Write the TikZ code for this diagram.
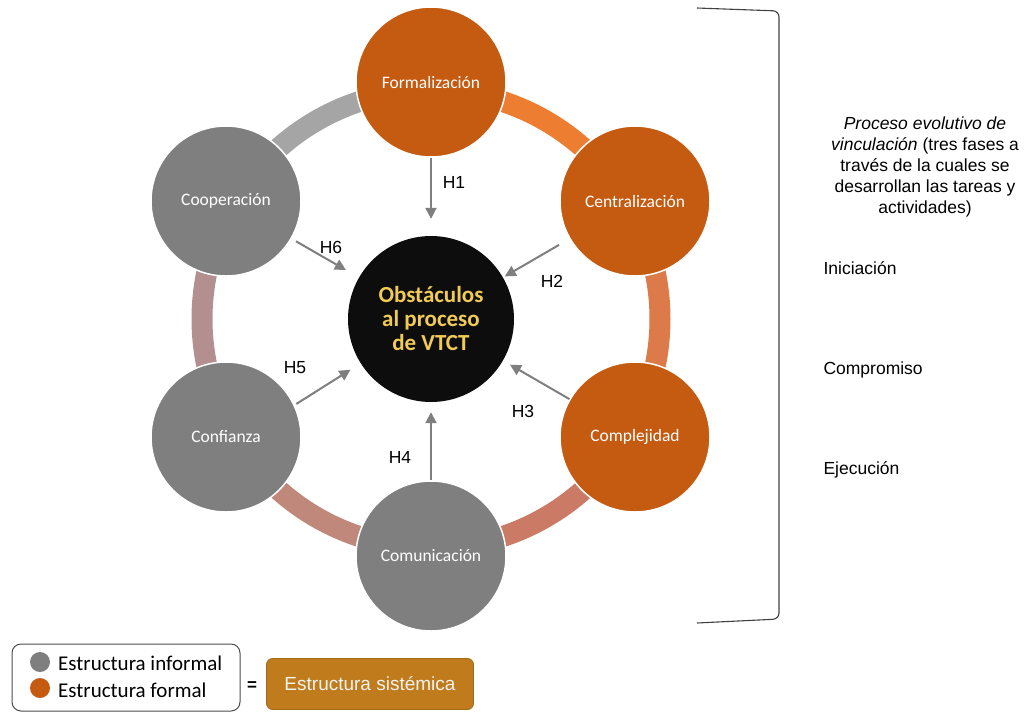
\documentclass[tikz,border=0pt]{standalone}
\usepackage{fontspec}
\setmainfont{Carlito}
\newfontfamily\arialfont{Liberation Sans}
\usetikzlibrary{arrows.meta}
\definecolor{orangeN}{HTML}{C55A11}
\definecolor{grayN}{HTML}{7F7F7F}
\definecolor{goldT}{HTML}{F2CB55}
\definecolor{arcA}{HTML}{ED7D31}
\definecolor{arcB}{HTML}{DC7A4A}
\definecolor{arcC}{HTML}{CB7A66}
\definecolor{arcD}{HTML}{C0887A}
\definecolor{arcE}{HTML}{B38F90}
\definecolor{arcF}{HTML}{A5A5A5}
\definecolor{arrowG}{HTML}{7F7F7F}
\definecolor{sistem}{HTML}{C07C1C}
\begin{document}
\begin{tikzpicture}[x=1pt,y=-1pt,
  ringarc/.style={line width=21pt},
  factor/.style={circle,minimum size=150pt,inner sep=0pt,draw=white,line width=1.5pt,
    text=white,font=\fontsize{17.5}{21}\selectfont},
  informal/.style={factor,fill=grayN},
  formal/.style={factor,fill=orangeN},
  hyp/.style={draw=arrowG,line width=2pt,-{Triangle[length=11pt,width=11pt]}},
  hlabel/.style={font=\arialfont\fontsize{17.5}{20}\selectfont,text=black},
  sidetext/.style={font=\arialfont\fontsize{17.5}{21}\selectfont,text=black},
  legtext/.style={font=\fontsize{21}{24}\selectfont,anchor=west,inner sep=0pt}
]
\useasboundingbox (0,0) rectangle (1026,713);
\coordinate (o) at (431,319);
% ring
\draw[ringarc,arcA] (o) ++(-90:229) arc[start angle=-90,end angle=-30,radius=229];
\draw[ringarc,arcB] (o) ++(-30:229) arc[start angle=-30,end angle=30,radius=229];
\draw[ringarc,arcC] (o) ++(30:229) arc[start angle=30,end angle=90,radius=229];
\draw[ringarc,arcD] (o) ++(90:229) arc[start angle=90,end angle=150,radius=229];
\draw[ringarc,arcE] (o) ++(150:229) arc[start angle=150,end angle=210,radius=229];
\draw[ringarc,arcF] (o) ++(210:229) arc[start angle=210,end angle=270,radius=229];
% nodes
\node[formal] (form) at (431,82) {Formalización};
\node[formal] (cent) at (635,201) {Centralización};
\node[formal] (comp) at (635,437) {Complejidad};
\node[informal] (comu) at (431,556) {Comunicación};
\node[informal] (conf) at (226,437) {Confianza};
\node[informal] (coop) at (226,201) {Cooperación};
\node[circle,minimum size=166pt,inner sep=0pt,fill=black!95,text=goldT,align=center,
  font=\bfseries\fontsize{23}{24}\selectfont] (ctr) at (o) {Obstáculos\\al proceso\\de VTCT};
% hypotheses
\draw[hyp,shorten >=17pt] (form) -- (ctr);
\draw[hyp,shorten <=12pt,shorten >=2pt] (cent.210) -- (ctr.30);
\draw[hyp,shorten >=8pt] (comp) -- (ctr);
\draw[hyp,shorten >=10pt] (comu) -- (ctr);
\draw[hyp,shorten <=2pt,shorten >=12pt] (conf.25) -- (ctr);
\draw[hyp,shorten <=5pt,shorten >=15pt] (coop) -- (ctr);
\node[hlabel] (h1) at (454,182) {H1};
\node[hlabel] (h2) at (552,281) {H2};
\node[hlabel] (h3) at (523,411) {H3};
\node[hlabel] (h4) at (400,457) {H4};
\node[hlabel] (h5) at (295,368) {H5};
\node[hlabel] (h6) at (331,247) {H6};
% bracket
\draw[line width=1.1pt,draw=black!75,rounded corners=6pt] (697,8) -- (779,11) -- (779,619) -- (697,623);
\node[sidetext,align=center] (proc) at (925,167) {\textit{Proceso evolutivo de}\\\textit{vinculación} (tres fases a\\través de la cuales se\\desarrollan las tareas y\\actividades)};
\node[sidetext,anchor=west] (ini) at (820,268) {Iniciación};
\node[sidetext,anchor=west] (compr) at (820,370) {Compromiso};
\node[sidetext,anchor=west] (ejec) at (820,470) {Ejecución};
% legend
\draw[line width=1pt,draw=black!70,rounded corners=9pt] (12,644) rectangle (240,711);
\fill[grayN] (40,662) circle[radius=10];
\fill[orangeN] (40,688) circle[radius=10];
\node[legtext] (linf) at (58,663) {Estructura informal};
\node[legtext] (lfor) at (58,690) {Estructura formal};
\node[font=\arialfont\bfseries\fontsize{17}{20}\selectfont] (eq) at (252,686) {=};
\node[draw=sistem!85!black,line width=0.8pt,fill=sistem,rounded corners=6pt,minimum width=207pt,minimum height=51pt,
  text=white!95!black,font=\arialfont\fontsize{19}{22}\selectfont] (sis) at (370,684) {Estructura sistémica};
\end{tikzpicture}
\end{document}
